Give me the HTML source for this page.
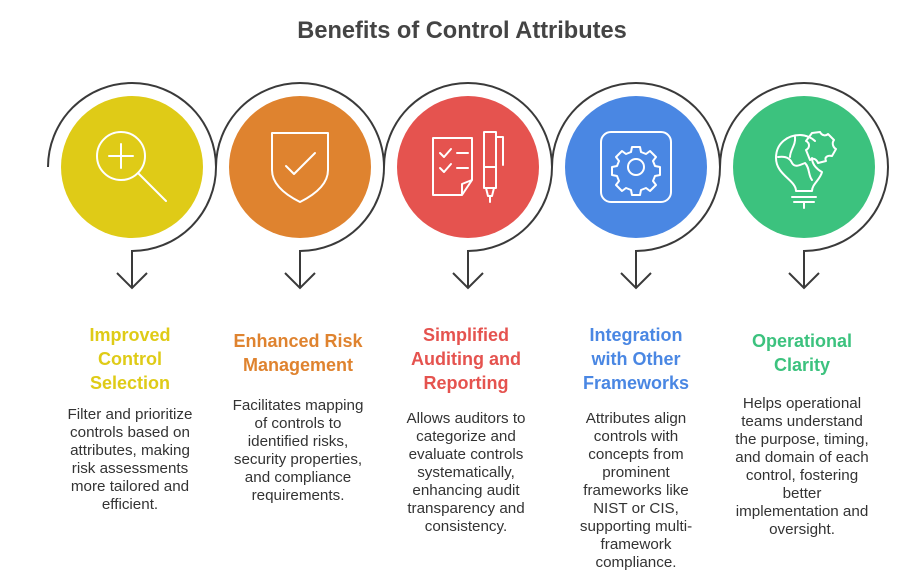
<!DOCTYPE html>
<html><head><meta charset="utf-8"><style>
html,body{margin:0;padding:0;background:#fff}
svg{display:block}
.t{font-family:"Liberation Sans",sans-serif;font-weight:bold;font-size:18px;text-anchor:middle}
.d{font-family:"Liberation Sans",sans-serif;font-size:15.2px;fill:#333;text-anchor:middle}
.ic{fill:none;stroke:#fff;stroke-width:2;stroke-linecap:round;stroke-linejoin:round}
.arc{fill:none;stroke:#3a3a3a;stroke-width:2}
</style></head><body>
<svg width="923" height="580" viewBox="0 0 923 580">
<text x="462" y="38" style="font-family:'Liberation Sans',sans-serif;font-weight:bold;font-size:23.6px;fill:#444;text-anchor:middle">Benefits of Control Attributes</text>

<g id="arcs">
<path class="arc" d="M48,167 A84,84 0 1 1 132,251 L132,288 M117,273 L132,288 L147,273"/>
<path class="arc" d="M216,167 A84,84 0 1 1 300,251 L300,288 M285,273 L300,288 L315,273"/>
<path class="arc" d="M384,167 A84,84 0 1 1 468,251 L468,288 M453,273 L468,288 L483,273"/>
<path class="arc" d="M552,167 A84,84 0 1 1 636,251 L636,288 M621,273 L636,288 L651,273"/>
<path class="arc" d="M720,167 A84,84 0 1 1 804,251 L804,288 M789,273 L804,288 L819,273"/>
</g>
<circle cx="132" cy="167" r="71" fill="#DFCB17"/>
<circle cx="300" cy="167" r="71" fill="#DF832F"/>
<circle cx="468" cy="167" r="71" fill="#E5534F"/>
<circle cx="636" cy="167" r="71" fill="#4A87E3"/>
<circle cx="804" cy="167" r="71" fill="#3CC27E"/>

<g class="ic">
<circle cx="121" cy="156" r="24"/><path d="M121,144V168M109,156H133M138,173L166,201"/>
<path d="M272,133H328V170C328,185 314,195 300,202C286,195 272,185 272,170Z"/><path d="M286,166L294,174L315,153"/>
<path d="M433,138H472V180L462,195H433Z M462,195V184L472,180"/><path d="M440,153L444,157L451,149M440,168L444,172L451,164M457,153H468M457,168H468"/>
<path d="M484,132H496V188H484Z M484,167H496M496,137H503V165M486,188L488,196H492L494,188M490,196V202"/>
<rect x="601" y="132" width="70" height="70" rx="10"/><circle cx="636" cy="167" r="8"/>
<path d="M632,147h8l1,5l5,2l4,-3l6,6l-3,4l2,5l5,1v8l-5,1l-2,5l3,4l-6,6l-4,-3l-5,2l-1,5h-8l-1,-5l-5,-2l-4,3l-6,-6l3,-4l-2,-5l-5,-1v-8l5,-1l2,-5l-3,-4l6,-6l4,3l5,-2z"/>
<path d="M796,191C796,180 776,175 776,158C776,143 788,135 800,135C806,135 812,138 815,141M812,158C812,165 818,170 822,172C820,180 812,184 812,191M796,191H812M792,197H816M794,202H814M804,202V208M778,157C785,156 790,158 792,163C795,168 800,165 805,163C810,168 808,175 812,180M795,137C796,145 790,150 790,157"/>
<path d="M812,133L820,132C822,136 826,136 828,134L834,140C831,144 834,148 836,149L832,156C828,155 824,157 826,161L818,163C816,158 812,158 810,160L806,150C810,148 810,143 806,141Z"/>
</g>

<g class="t" fill="#DFCB17"><text x="130" y="341">Improved</text><text x="130" y="365">Control</text><text x="130" y="389">Selection</text></g>
<g class="t" fill="#DF832F"><text x="298" y="347">Enhanced Risk</text><text x="298" y="371">Management</text></g>
<g class="t" fill="#E5534F"><text x="466" y="341">Simplified</text><text x="466" y="365">Auditing and</text><text x="466" y="389">Reporting</text></g>
<g class="t" fill="#4A87E3"><text x="636" y="341">Integration</text><text x="636" y="365">with Other</text><text x="636" y="389">Frameworks</text></g>
<g class="t" fill="#3CC27E"><text x="802" y="347">Operational</text><text x="802" y="371">Clarity</text></g>

<g class="d">
<text x="130" y="419">Filter and prioritize</text><text x="130" y="437">controls based on</text><text x="130" y="455">attributes, making</text><text x="130" y="473">risk assessments</text><text x="130" y="491">more tailored and</text><text x="130" y="509">efficient.</text>
<text x="298" y="410">Facilitates mapping</text><text x="298" y="428">of controls to</text><text x="298" y="446">identified risks,</text><text x="298" y="464">security properties,</text><text x="298" y="482">and compliance</text><text x="298" y="500">requirements.</text>
<text x="466" y="423">Allows auditors to</text><text x="466" y="441">categorize and</text><text x="466" y="459">evaluate controls</text><text x="466" y="477">systematically,</text><text x="466" y="495">enhancing audit</text><text x="466" y="513">transparency and</text><text x="466" y="531">consistency.</text>
<text x="636" y="423">Attributes align</text><text x="636" y="441">controls with</text><text x="636" y="459">concepts from</text><text x="636" y="477">prominent</text><text x="636" y="495">frameworks like</text><text x="636" y="513">NIST or CIS,</text><text x="636" y="531">supporting multi-</text><text x="636" y="549">framework</text><text x="636" y="567">compliance.</text>
<text x="802" y="408">Helps operational</text><text x="802" y="426">teams understand</text><text x="802" y="444">the purpose, timing,</text><text x="802" y="462">and domain of each</text><text x="802" y="480">control, fostering</text><text x="802" y="498">better</text><text x="802" y="516">implementation and</text><text x="802" y="534">oversight.</text>
</g>
</svg>
</body></html>
